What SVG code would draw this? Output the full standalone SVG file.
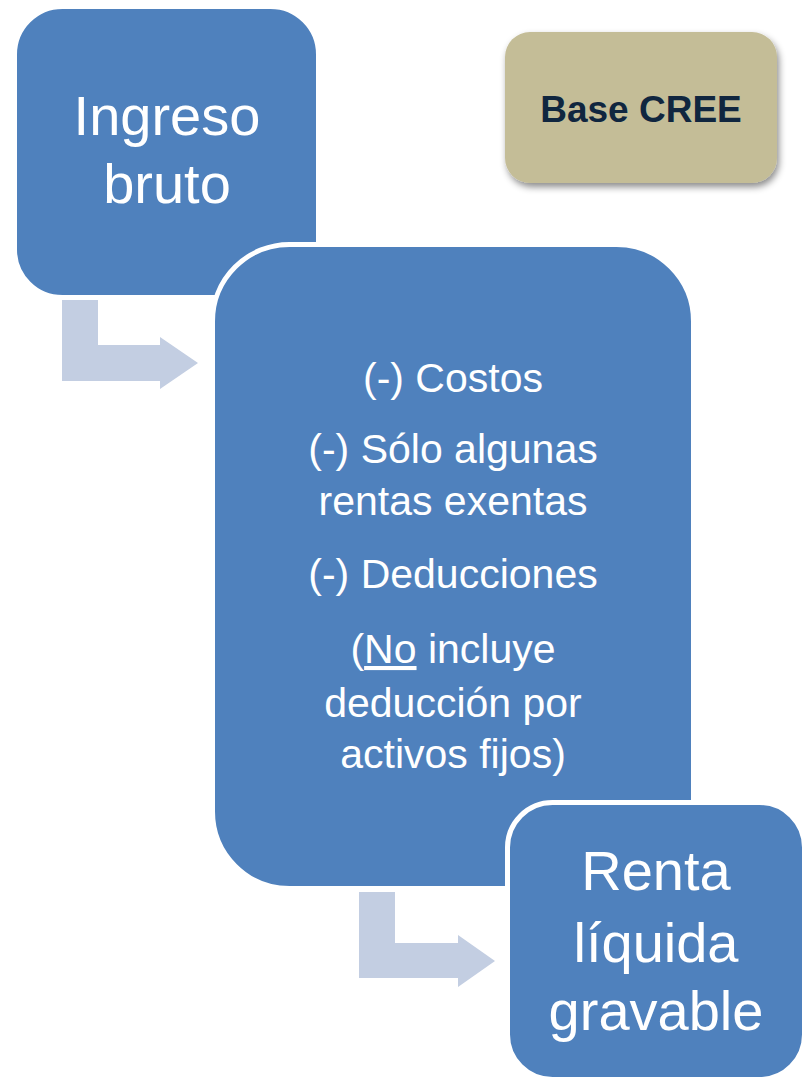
<svg xmlns="http://www.w3.org/2000/svg" width="803" height="1079" viewBox="0 0 803 1079">
  <style>
    .box { fill: #4F81BD; stroke: #FFFFFF; stroke-width: 5; }
    .arrow { fill: #C3CEE2; stroke: none; }
    .t { font-family: "Liberation Sans", Arial, sans-serif; fill: #FFFFFF; text-anchor: middle; }
    .big { font-size: 56px; }
    .mid { font-size: 41px; }
    .lbl { font-family: "Liberation Sans", Arial, sans-serif; font-weight: bold; font-size: 37px; fill: #10263F; text-anchor: middle; }
  </style>
  <defs>
    <filter id="shadow" x="-20%" y="-20%" width="150%" height="160%">
      <feDropShadow dx="2" dy="4" stdDeviation="3.5" flood-color="#000000" flood-opacity="0.45"/>
    </filter>
  </defs>
  <rect width="803" height="1079" fill="#FFFFFF"/>

  <g id="connectors">
    <polygon class="arrow" points="62,300 98,300 98,345 160,345 160,337 198,363 160,389 160,381 62,381"/>
    <polygon class="arrow" points="359,892 395,892 395,943 458,943 458,935 495,961 458,987 458,978 359,978"/>
  </g>

  <g id="node-ingreso-bruto">
    <rect class="box" x="14.5" y="6.5" width="304" height="291" rx="48" ry="48"/>
    <text class="t big" x="167" y="135">Ingreso</text>
    <text class="t big" x="167" y="203">bruto</text>
  </g>

  <g id="node-deducciones">
    <rect class="box" x="212.5" y="244.5" width="481" height="644" rx="77" ry="77"/>
    <text class="t mid" x="453" y="392">(-) Costos</text>
    <text class="t mid" x="453" y="463">(-) Sólo algunas</text>
    <text class="t mid" x="453" y="515">rentas exentas</text>
    <text class="t mid" x="453" y="588">(-) Deducciones</text>
    <text class="t mid" x="453" y="663">(<tspan text-decoration="underline">No</tspan> incluye</text>
    <text class="t mid" x="453" y="717">deducción por</text>
    <text class="t mid" x="453" y="768">activos fijos)</text>
  </g>

  <g id="node-renta-liquida">
    <rect class="box" x="507.5" y="802.5" width="297" height="277" rx="45" ry="45"/>
    <text class="t big" x="656" y="890">Renta</text>
    <text class="t big" x="656" y="962">líquida</text>
    <text class="t big" x="656" y="1030">gravable</text>
  </g>

  <g id="node-base-cree">
    <rect x="505" y="32" width="272" height="151" rx="25" ry="25" fill="#C4BD97" filter="url(#shadow)"/>
    <text class="lbl" x="641" y="122">Base CREE</text>
  </g>
</svg>
